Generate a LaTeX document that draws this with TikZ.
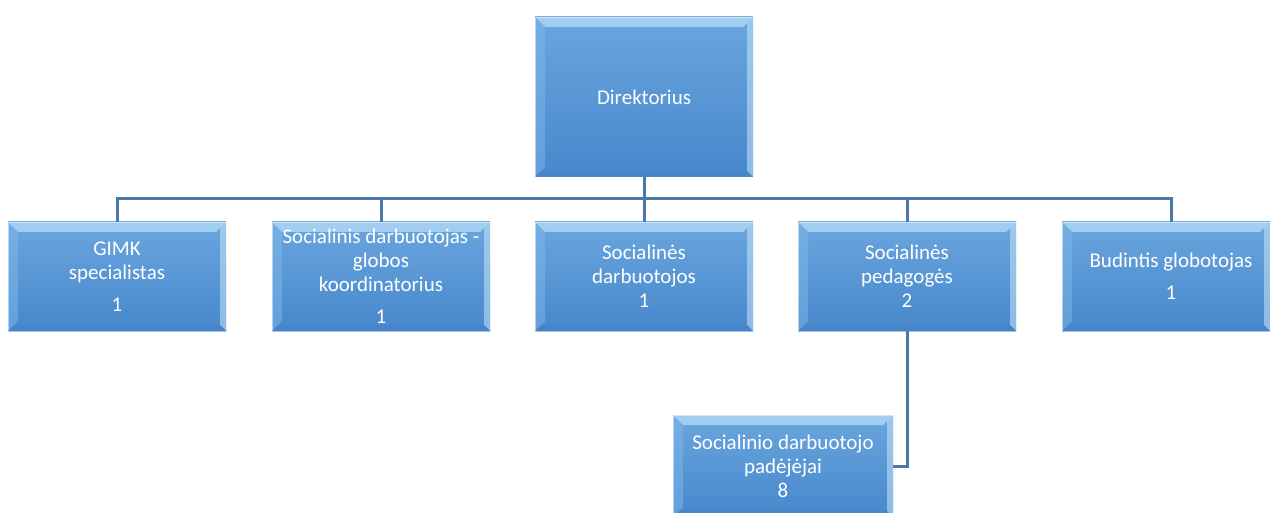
\documentclass[tikz,border=0pt]{standalone}
\usepackage{fontspec}
\setmainfont{Carlito}
\usetikzlibrary{calc}
\definecolor{boxtop}{HTML}{6AA6DE}
\definecolor{boxbot}{HTML}{4787CB}
\definecolor{bevlight}{HTML}{B5DCF8}
\definecolor{bevside}{HTML}{7FB8EA}
\definecolor{bevright}{HTML}{C8E6FB}
\definecolor{bevdark}{HTML}{4682C4}
\definecolor{linkcol}{HTML}{4A78A8}
\tikzset{
  orgbox/.style={
    rectangle, inner sep=0pt, minimum width=218pt, minimum height=109pt,
    top color=boxtop, bottom color=boxbot, draw=none,
    text=white, align=center, font=\fontsize{21}{24}\selectfont,
    path picture={
      \coordinate (ll) at (path picture bounding box.south west);
      \coordinate (ur) at (path picture bounding box.north east);
      \fill[bevlight,opacity=0.75] (ll |- ur) -- (ur) -- ($(ur)+(-10pt,-10pt)$) -- ($(ll |- ur)+(10pt,-10pt)$) -- cycle;
      \fill[bevside,opacity=0.5] (ll) -- (ll |- ur) -- ($(ll |- ur)+(10pt,-10pt)$) -- ($(ll)+(10pt,10pt)$) -- cycle;
      \fill[bevright,opacity=0.55] (ur) -- (ur |- ll) -- ($(ur |- ll)+(-6pt,6pt)$) -- ($(ur)+(-6pt,-6pt)$) -- cycle;
      \fill[bevdark,opacity=0.4] (ll) -- (ur |- ll) -- ($(ur |- ll)+(-6pt,6pt)$) -- ($(ll)+(6pt,6pt)$) -- cycle;
      \draw[white,opacity=0.5,line width=0.8pt] (ll) rectangle (ur);
    }
  },
  link/.style={draw=linkcol, line width=3pt}
}
\begin{document}
\begin{tikzpicture}[x=1pt,y=-1pt]
\useasboundingbox (0,0) rectangle (1270,513);
\node[orgbox, minimum height=160pt] (dir) at (644,97) {Direktorius};
\node[orgbox] (c1) at (117,276.5) {GIMK\\specialistas\\[8pt]1};
\node[orgbox] (c2) at (381,276.5) {Socialinis darbuotojas -\\globos\\koordinatorius\\[8pt]1};
\node[orgbox] (c3) at (644,276.5) {Socialinės\\darbuotojos\\1};
\node[orgbox] (c4) at (907,276.5) {Socialinės\\pedagogės\\2};
\node[orgbox, minimum width=208pt] (c5) at (1166,276.5) {\hspace*{10pt}Budintis globotojas\\[8pt]\hspace*{10pt}1};
\node[orgbox, minimum width=220pt, minimum height=102pt] (sub) at (783,466) {Socialinio darbuotojo\\padėjėjai\\8};
\coordinate (bus) at (644,199);
\draw[link] (dir.south) -- (bus);
\draw[link] (c1.north) |- (bus);
\draw[link] (c5.north) ++(5pt,0) |- (bus);
\foreach \c in {c2,c3,c4} \draw[link] (\c.north) -- (\c.north |- bus);
\draw[link] (c4.south) |- (sub.east);
\end{tikzpicture}
\end{document}
